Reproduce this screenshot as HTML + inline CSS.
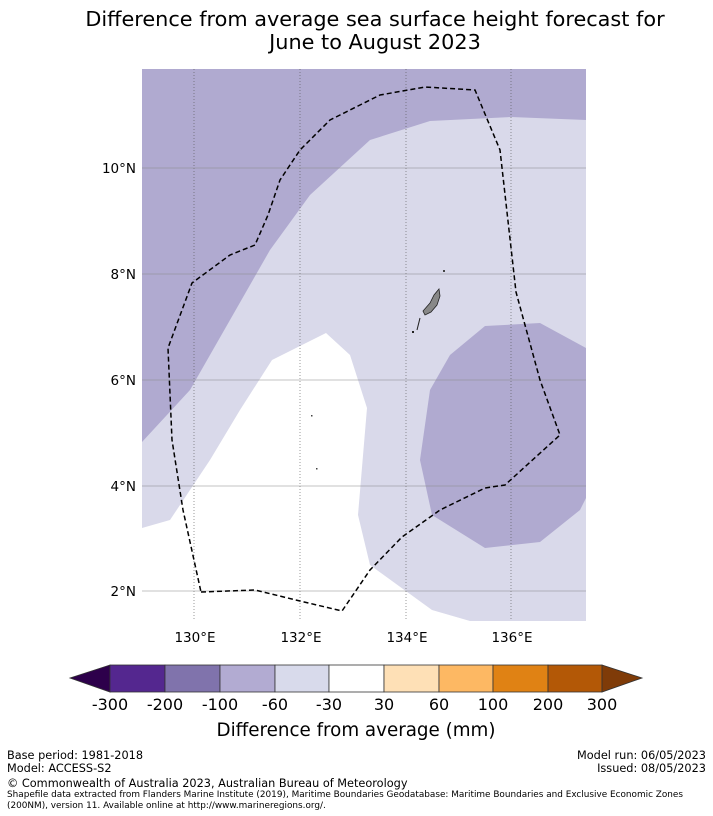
<!DOCTYPE html>
<html><head><meta charset="utf-8"><style>
body{margin:0;width:713px;height:816px;background:#fff;font-family:"DejaVu Sans","Liberation Sans",sans-serif;position:relative;overflow:hidden}
.t{position:absolute;white-space:nowrap;color:#000}
.c{transform:translateX(-50%)}
.r{text-align:right}
</style></head><body>
<div class="t" style="left:0;width:750px;text-align:center;top:8px;font-size:20.8px;line-height:23px">Difference from average sea surface height forecast for<br>June to August 2023</div>
<svg width="713" height="816" style="position:absolute;left:0;top:0" xmlns="http://www.w3.org/2000/svg">
<rect x="142" y="69" width="444" height="552" fill="#d9d9ea"/>
<polygon fill="#b0aad0" points="142,69 586,69 586,120 511,117 430,121 370,140 310,195 270,250 230,320 190,390 142,442"/>
<polygon fill="#ffffff" points="142,528 170,520 210,460 240,410 272,360 326,333 350,355 367,408 358,515 370,565 432,610 470,621 142,621"/>
<polygon fill="#b0aad0" points="586,348 540,323 485,326 450,355 430,390 420,460 432,515 485,548 540,542 580,510 586,498"/>
<g stroke="#555" stroke-width="0.6">
<line x1="194" y1="69" x2="194" y2="621" stroke-dasharray="1,2"/>
<line x1="300" y1="69" x2="300" y2="621" stroke-dasharray="1,2"/>
<line x1="406" y1="69" x2="406" y2="621" stroke-dasharray="1,2"/>
<line x1="511" y1="69" x2="511" y2="621" stroke-dasharray="1,2"/>
<line x1="142" y1="168" x2="586" y2="168" stroke="#888"/>
<line x1="142" y1="274" x2="586" y2="274" stroke="#888"/>
<line x1="142" y1="380" x2="586" y2="380" stroke="#888"/>
<line x1="142" y1="486" x2="586" y2="486" stroke="#888"/>
<line x1="142" y1="591" x2="586" y2="591" stroke="#888"/>
</g>
<polyline fill="none" stroke="#000" stroke-width="1.5" stroke-dasharray="5,3" points="201,592 255,590 300,601 342,611 370,570 402,537 440,510 485,488 505,485 560,435 540,380 516,292 500,150 475,90 425,87 380,95 330,120 300,150 280,180 268,215 255,245 230,255 192,283 168,348 172,440 183,510 201,592"/>
<polygon fill="#888" stroke="#222" stroke-width="0.8" points="439,289 440,296 437,305 431,312 425,315 423,311 430,303 434,295"/>
<line x1="420" y1="318" x2="417" y2="330" stroke="#222" stroke-width="1"/>
<rect x="412" y="331" width="2" height="2" fill="#222"/>
<rect x="443" y="270" width="2" height="2" fill="#444"/>
<rect x="311" y="415" width="1.5" height="1.5" fill="#444"/>
<rect x="316" y="468" width="1.5" height="1.5" fill="#444"/>
<g stroke="#333" stroke-width="0.8">
<polygon points="70,678 110,665 110,692" fill="#2d004b"/>
<rect x="110" y="665" width="55" height="27" fill="#54278f"/>
<rect x="165" y="665" width="55" height="27" fill="#8073ac"/>
<rect x="220" y="665" width="55" height="27" fill="#b2abd2"/>
<rect x="275" y="665" width="54" height="27" fill="#d8daeb"/>
<rect x="329" y="665" width="55" height="27" fill="#ffffff"/>
<rect x="384" y="665" width="55" height="27" fill="#fee0b6"/>
<rect x="439" y="665" width="54" height="27" fill="#fdb863"/>
<rect x="493" y="665" width="55" height="27" fill="#e08214"/>
<rect x="548" y="665" width="54" height="27" fill="#b35806"/>
<polygon points="602,665 642,678 602,692" fill="#7f3b08"/>
</g>
</svg>
<div style="font-size:13.5px">
<div class="t r" style="right:577px;top:161px">10°N</div>
<div class="t r" style="right:577px;top:267px">8°N</div>
<div class="t r" style="right:577px;top:373px">6°N</div>
<div class="t r" style="right:577px;top:479px">4°N</div>
<div class="t r" style="right:577px;top:584px">2°N</div>
</div>
<div style="font-size:13.5px">
<div class="t c" style="left:195px;top:630px">130°E</div>
<div class="t c" style="left:301px;top:630px">132°E</div>
<div class="t c" style="left:407px;top:630px">134°E</div>
<div class="t c" style="left:512px;top:630px">136°E</div>
</div>
<div style="font-size:16px">
<div class="t c" style="left:110px;top:695px">-300</div>
<div class="t c" style="left:165px;top:695px">-200</div>
<div class="t c" style="left:220px;top:695px">-100</div>
<div class="t c" style="left:275px;top:695px">-60</div>
<div class="t c" style="left:329px;top:695px">-30</div>
<div class="t c" style="left:384px;top:695px">30</div>
<div class="t c" style="left:439px;top:695px">60</div>
<div class="t c" style="left:493px;top:695px">100</div>
<div class="t c" style="left:548px;top:695px">200</div>
<div class="t c" style="left:602px;top:695px">300</div>
</div>
<div class="t c" style="left:356px;top:720px;font-size:18.3px">Difference from average (mm)</div>
<div class="t" style="left:7px;top:749px;font-size:11.3px;line-height:13px">Base period: 1981-2018<br>Model: ACCESS-S2</div>
<div class="t r" style="right:7px;top:749px;font-size:11.3px;line-height:13px">Model run: 06/05/2023<br>Issued: 08/05/2023</div>
<div class="t" style="left:7px;top:777px;font-size:11.3px">© Commonwealth of Australia 2023, Australian Bureau of Meteorology</div>
<div class="t" style="left:7px;top:790px;font-size:8.9px;line-height:10.5px">Shapefile data extracted from Flanders Marine Institute (2019), Maritime Boundaries Geodatabase: Maritime Boundaries and Exclusive Economic Zones<br>(200NM), version 11. Available online at http://www.marineregions.org/.</div>
</body></html>
